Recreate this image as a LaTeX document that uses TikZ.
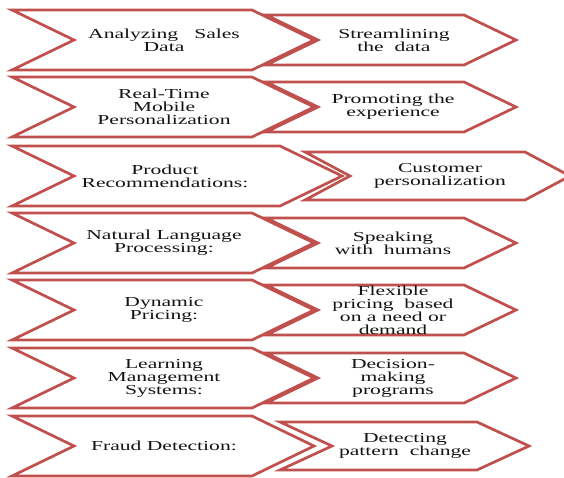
\documentclass[tikz,border=0pt]{standalone}
\usepackage{fontspec}
\setmainfont{Liberation Serif}[FakeStretch=1.57]
\definecolor{chevred}{HTML}{C0504D}
\definecolor{inkgrey}{HTML}{141414}
\tikzset{
  chev/.style={draw=chevred, fill=white, line width=2.7bp, line join=miter},
  lbl/.style={align=center, inner sep=0pt, text=inkgrey,
    font=\fontsize{13.8}{13}\selectfont},
}
% #1 name, #2 left x, #3 end of top edge, #4 centre y, #5 half height,
% #6 notch/point depth, #7 label centre x, #8 label
\newcommand{\chevshape}[8]{%
  \draw[chev] (#2,#4-#5) -- (#3,#4-#5) -- (#3+#6,#4) -- (#3,#4+#5)
    -- (#2,#4+#5) -- (#2+#6,#4) -- cycle;
  \node[lbl] (#1) at (#7,#4) {#8};
}
\begin{document}
\begin{tikzpicture}[x=1bp,y=-1bp]
\useasboundingbox[fill=white] (0,0) rectangle (564,478);
% row 1
\chevshape{a1}{12}{252}{40}{30}{62}{164}{Analyzing~~~Sales\\Data}
\chevshape{b1}{266}{464}{40}{25}{52}{394}{Streamlining\\the~~data}
% row 2
\chevshape{a2}{12}{252}{107}{30}{62}{164}{Real-Time\\Mobile\\Personalization}
\chevshape{b2}{266}{464}{107}{25}{52}{393}{Promoting the\\experience}
% row 3
\chevshape{a3}{12}{280}{176}{30}{62}{165}{Product\\Recommendations:}
\chevshape{b3}{305}{525}{176}{24}{45}{440}{Customer\\personalization}
% row 4
\chevshape{a4}{12}{252}{243}{30}{62}{164}{Natural Language\\Processing:}
\chevshape{b4}{266}{464}{243}{25}{52}{393}{Speaking\\with~~humans}
% row 5
\chevshape{a5}{12}{252}{310}{30}{62}{164}{Dynamic\\Pricing:}
\chevshape{b5}{266}{464}{310}{25}{52}{393}{Flexible\\pricing~~based\\on a need or\\demand}
% row 6
\chevshape{a6}{12}{252}{378}{30}{62}{164}{Learning\\Management\\Systems:}
\chevshape{b6}{266}{464}{378}{25}{52}{393}{Decision-\\making\\programs}
% row 7
\chevshape{a7}{12}{252}{446}{30}{62}{164}{Fraud Detection:}
\chevshape{b7}{280}{477}{446}{24}{52}{405}{Detecting\\pattern~~change}
\end{tikzpicture}
\end{document}
